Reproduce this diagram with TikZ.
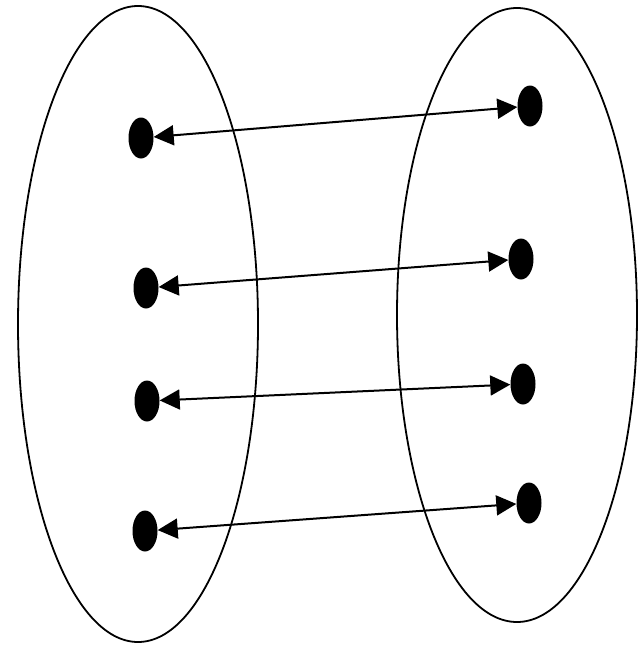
\documentclass[tikz,border=0pt]{standalone}
\usetikzlibrary{shapes.geometric,arrows.meta}
\tikzset{
    setline/.style={line width=1.8pt},
    dot/.style={ellipse, fill=black, draw=none, inner sep=0pt, minimum width=25pt, minimum height=41pt},
    pair/.style={line width=2pt, {Triangle[length=20pt,width=20pt]}-{Triangle[length=20pt,width=20pt]}}
}
\begin{document}
\begin{tikzpicture}[x=1pt, y=-1pt]
    \useasboundingbox (0,0) rectangle (639,645);

    % the two sets
    \draw[setline] (138,324) ellipse [x radius=120, y radius=318];
    \draw[setline] (517,315) ellipse [x radius=120, y radius=307];

    % elements of the left set
    \node[dot] (L1) at (141,138) {};
    \node[dot] (L2) at (146,288) {};
    \node[dot] (L3) at (147,401) {};
    \node[dot] (L4) at (145,531) {};

    % elements of the right set
    \node[dot] (R1) at (530,106) {};
    \node[dot] (R2) at (521,259) {};
    \node[dot] (R3) at (523,384) {};
    \node[dot] (R4) at (529,503) {};

    % matching
    \draw[pair] (L1) -- (R1);
    \draw[pair] (L2) -- (R2);
    \draw[pair] (L3) -- (R3);
    \draw[pair] (L4) -- (R4);

\end{tikzpicture}
\end{document}
